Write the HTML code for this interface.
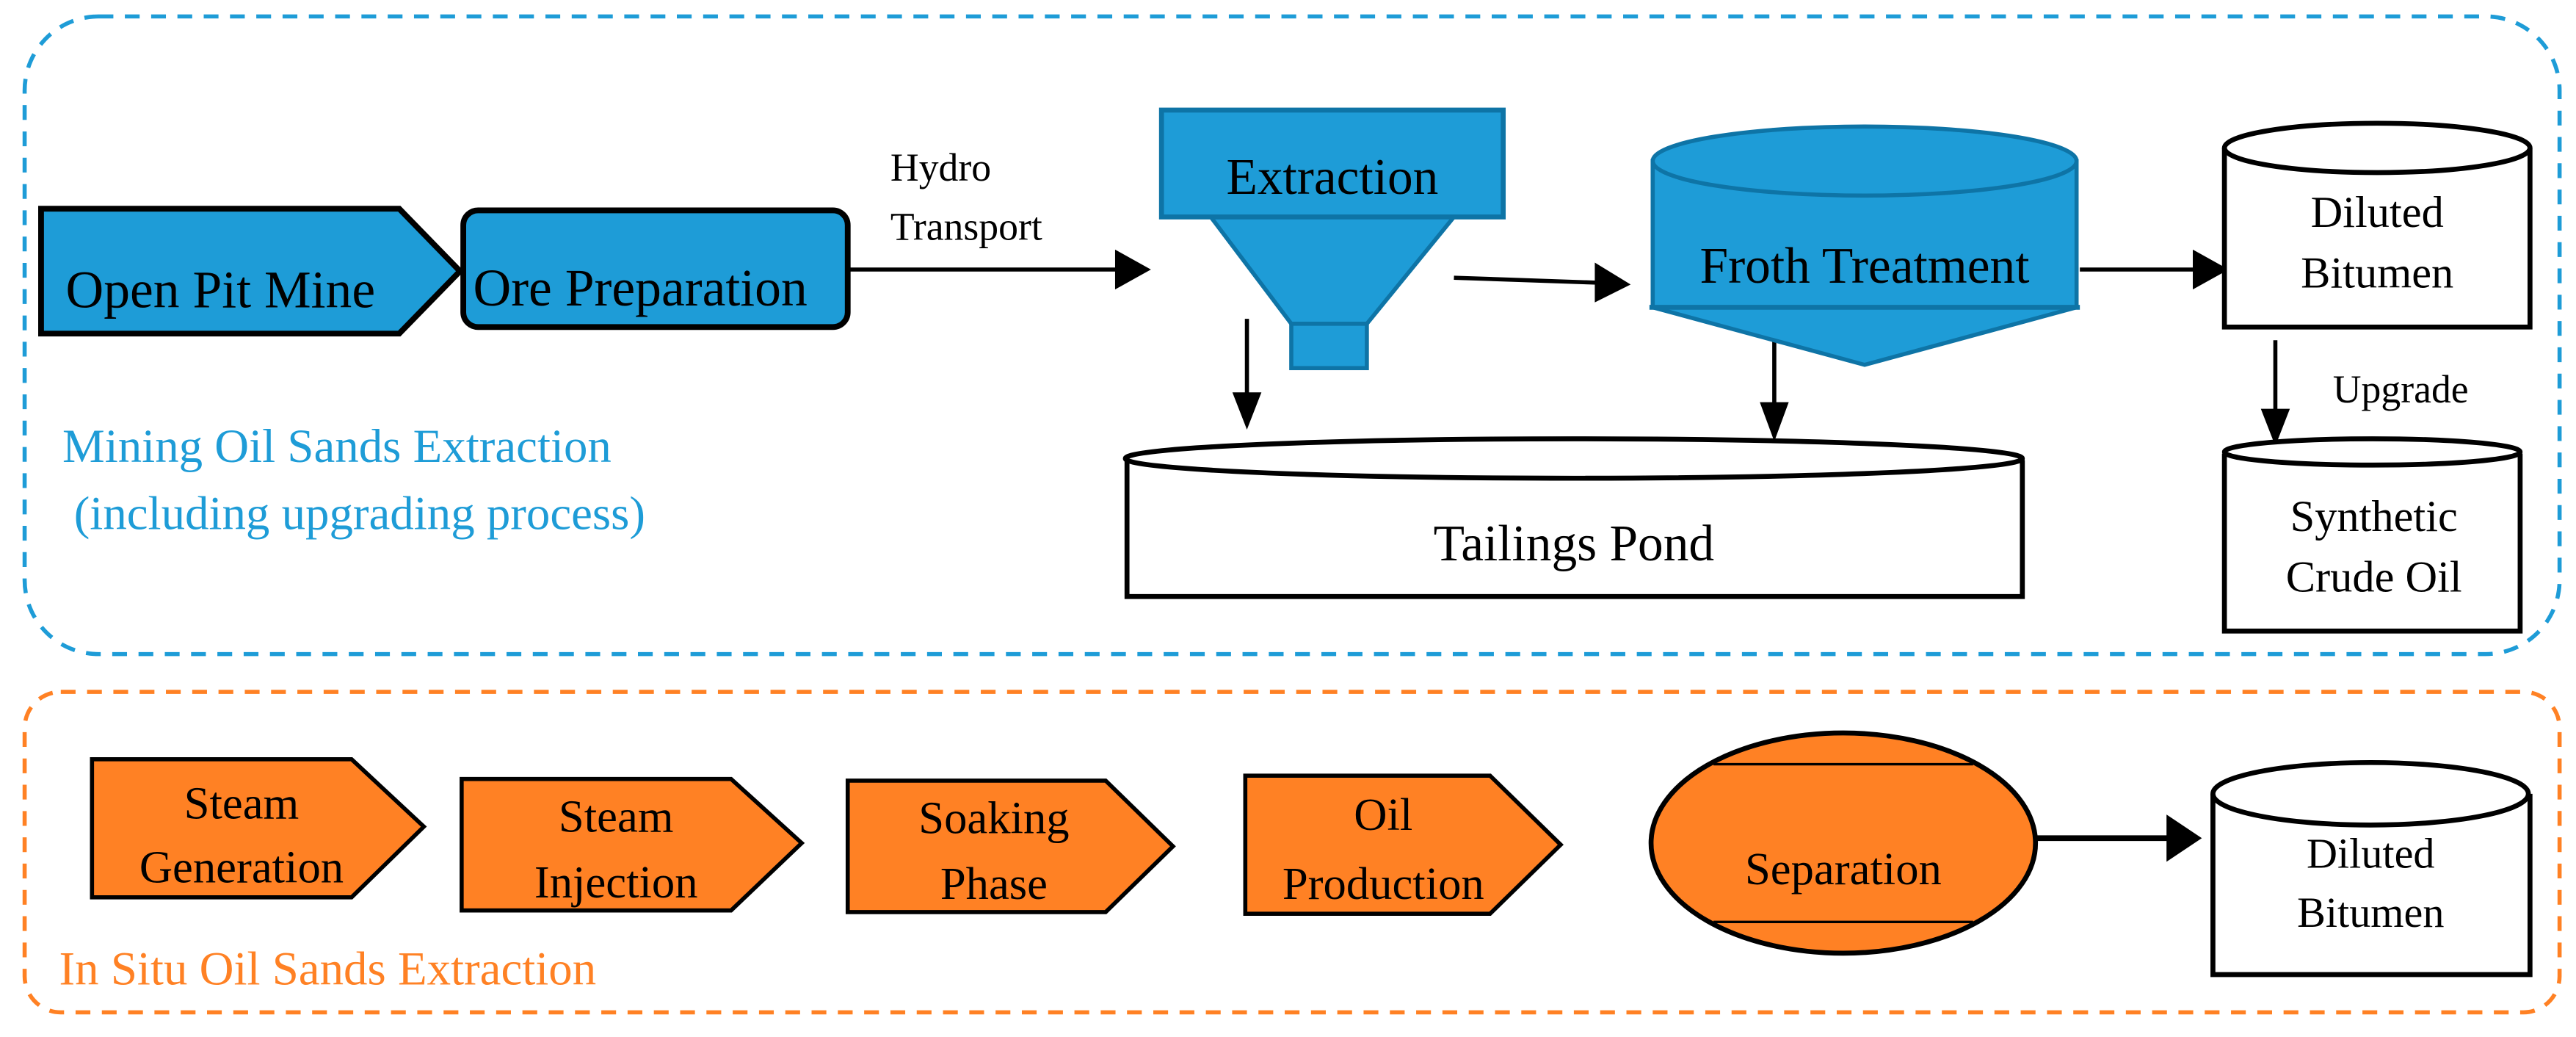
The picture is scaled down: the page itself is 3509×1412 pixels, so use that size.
<!DOCTYPE html>
<html><head><meta charset="utf-8"><style>html,body{margin:0;padding:0;background:#fff}svg{display:block}svg text{font-family:"Liberation Serif","Times New Roman",serif !important;fill:#000}</style></head>
<body>
<svg width="3509" height="1412" viewBox="0 0 1568 631" preserveAspectRatio="none" xmlns="http://www.w3.org/2000/svg" font-family="Liberation Serif, serif">
<rect x="15" y="10" width="1543" height="388" rx="45" fill="none" stroke="#1e9cd7" stroke-width="2.5" stroke-dasharray="9,7"/>
<rect x="15" y="421" width="1543" height="195" rx="22" fill="none" stroke="#ff8124" stroke-width="2.5" stroke-dasharray="9,7"/>
<g stroke="#000" stroke-width="2.5" fill="none">
<line x1="516" y1="164" x2="680" y2="164"/><path d="M680,154 L698,164 L680,174z" fill="#000"/>
<line x1="885" y1="169" x2="972" y2="172"/><path d="M972,162 L990,173 L972,182z" fill="#000"/>
<line x1="1266" y1="164" x2="1336" y2="164"/><path d="M1336,154 L1354,164 L1336,174z" fill="#000"/>
<line x1="759" y1="194" x2="759" y2="240"/><path d="M752,240 L759,258 L766,240z" fill="#000"/>
<line x1="1080" y1="202" x2="1080" y2="246"/><path d="M1073,246 L1080,265 L1087,246z" fill="#000"/>
<line x1="1385" y1="207" x2="1385" y2="250"/><path d="M1378,250 L1385,268 L1392,250z" fill="#000"/>
<line x1="1240" y1="510" x2="1322" y2="510" stroke-width="3.5"/><path d="M1320,498 L1338,510 L1320,522z" fill="#000"/>
</g>
<path d="M25,127 L243,127 L280,165 L243,203 L25,203z" fill="#1e9cd7" stroke="#000" stroke-width="3.5"/>
<rect x="282" y="128" width="234" height="71" rx="9" fill="#1e9cd7" stroke="#000" stroke-width="3.5"/>
<text x="40" y="187" font-size="32">Open Pit Mine</text>
<text x="288" y="186" font-size="32">Ore Preparation</text>
<text x="542" y="110" font-size="24">Hydro</text>
<text x="542" y="146" font-size="24">Transport</text>
<path d="M737,132 L885,132 L832,197 L786,197 z" fill="#1e9cd7" stroke="#0e74a6" stroke-width="2.5"/>
<rect x="786" y="197" width="46" height="27" fill="#1e9cd7" stroke="#0e74a6" stroke-width="2.5"/>
<rect x="707" y="67" width="208" height="65" fill="#1e9cd7" stroke="#0e74a6" stroke-width="3"/>
<text x="811" y="118" font-size="31" text-anchor="middle">Extraction</text>
<path d="M1006,98 L1006,187 L1135,222 L1264,187 L1264,98 z" fill="#1e9cd7" stroke="#0e74a6" stroke-width="2.5"/>
<ellipse cx="1135" cy="98" rx="129" ry="21" fill="#1e9cd7" stroke="#0e74a6" stroke-width="2.5"/>
<line x1="1004" y1="187" x2="1266" y2="187" stroke="#0e74a6" stroke-width="3"/>
<text x="1135" y="172" font-size="31" text-anchor="middle">Froth Treatment</text>
<path d="M686,280 L686,363 L1231,363 L1231,280" fill="#fff" stroke="#000" stroke-width="3"/>
<ellipse cx="958" cy="279" rx="273" ry="12" fill="#fff" stroke="#000" stroke-width="3"/>
<text x="958" y="341" font-size="31" text-anchor="middle">Tailings Pond</text>
<path d="M1354,90 L1354,199 L1540,199 L1540,90" fill="#fff" stroke="#000" stroke-width="3"/>
<ellipse cx="1447" cy="90" rx="93" ry="15" fill="#fff" stroke="#000" stroke-width="3"/>
<text x="1447" y="138" font-size="27" text-anchor="middle">Diluted</text>
<text x="1447" y="175" font-size="27" text-anchor="middle">Bitumen</text>
<text x="1420" y="245" font-size="24">Upgrade</text>
<path d="M1354,276 L1354,384 L1534,384 L1534,276" fill="#fff" stroke="#000" stroke-width="3"/>
<ellipse cx="1444" cy="275" rx="90" ry="8" fill="#fff" stroke="#000" stroke-width="3"/>
<text x="1445" y="323" font-size="27" text-anchor="middle">Synthetic</text>
<text x="1445" y="360" font-size="27" text-anchor="middle">Crude Oil</text>
<text x="38" y="281" font-size="29" style="fill:#1e9cd7">Mining Oil Sands Extraction</text>
<text x="45" y="322" font-size="29" style="fill:#1e9cd7">(including upgrading process)</text>
<g fill="#ff8124" stroke="#000" stroke-width="2.5">
<path d="M56,462 L214,462 L258,503 L214,546 L56,546z"/>
<path d="M281,474 L445,474 L488,513 L445,554 L281,554z"/>
<path d="M516,475 L673,475 L714,515 L673,555 L516,555z"/>
<path d="M758,472 L907,472 L950,514 L907,556 L758,556z"/>
<ellipse cx="1122" cy="513" rx="117" ry="67" stroke-width="3"/>
</g>
<line x1="1043" y1="465" x2="1201" y2="465" stroke="#000" stroke-width="1.5"/>
<line x1="1043" y1="561" x2="1201" y2="561" stroke="#000" stroke-width="1.5"/>
<text x="147" y="498" font-size="28" text-anchor="middle">Steam</text>
<text x="147" y="537" font-size="28" text-anchor="middle">Generation</text>
<text x="375" y="506" font-size="28" text-anchor="middle">Steam</text>
<text x="375" y="546" font-size="28" text-anchor="middle">Injection</text>
<text x="605" y="507" font-size="28" text-anchor="middle">Soaking</text>
<text x="605" y="547" font-size="28" text-anchor="middle">Phase</text>
<text x="842" y="505" font-size="28" text-anchor="middle">Oil</text>
<text x="842" y="547" font-size="28" text-anchor="middle">Production</text>
<text x="1122" y="538" font-size="28" text-anchor="middle">Separation</text>
<path d="M1347,483 L1347,593 L1540,593 L1540,483" fill="#fff" stroke="#000" stroke-width="3"/>
<ellipse cx="1443" cy="483" rx="96" ry="19" fill="#fff" stroke="#000" stroke-width="3"/>
<text x="1443" y="528" font-size="26" text-anchor="middle">Diluted</text>
<text x="1443" y="564" font-size="26" text-anchor="middle">Bitumen</text>
<text x="36" y="599" font-size="29" style="fill:#ff8124">In Situ Oil Sands Extraction</text>
</svg>
</body></html>
